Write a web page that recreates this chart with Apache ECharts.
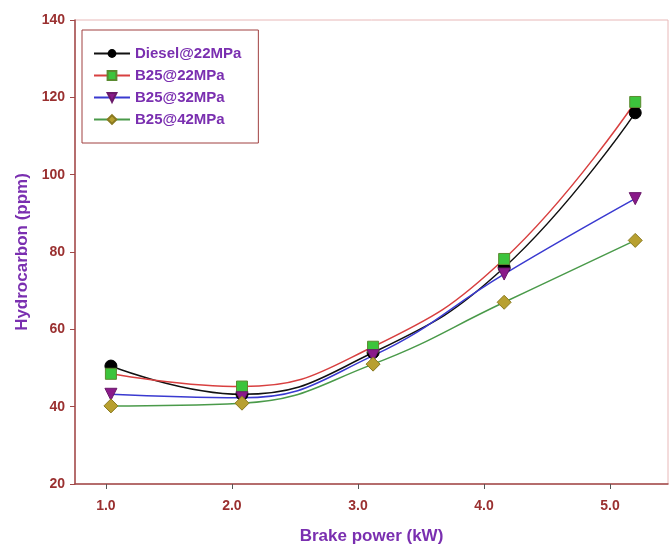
<!DOCTYPE html>
<html>
<head>
<meta charset="utf-8">
<script src="https://cdn.jsdelivr.net/npm/echarts@6/dist/echarts.min.js"></script>
<style>html,body{margin:0;padding:0;background:#fff}#c{width:672px;height:546px}</style>
</head>
<body>
<div id="c"></div>
<script>
var brakePower = [1.04, 2.08, 3.12, 4.16, 5.2];
var diesel22 = [50.5, 43.2, 54.0, 76.0, 116.0];
var b25_22 = [48.5, 45.2, 55.5, 78.2, 118.8];
var b25_32 = [43.2, 42.3, 53.2, 74.3, 93.8];
var b25_42 = [40.2, 40.9, 51.0, 67.0, 83.0];
var xTicks = [1, 2, 3, 4, 5];
var seriesNames = ['Diesel@22MPa', 'B25@22MPa', 'B25@32MPa', 'B25@42MPa'];

function pairs(ys) { return brakePower.map(function (x, i) { return [x, ys[i]]; }); }

var axisColor = '#a04848';
var labelColor = '#9a3030';
var titleColor = '#7a2fb0';
var font = '"Liberation Sans", Arial, sans-serif';

var chart = echarts.init(document.getElementById('c'), null, {renderer: 'canvas'});
chart.setOption({
  animation: false,
  backgroundColor: '#ffffff',
  grid: {left: 75, top: 20, right: 4, bottom: 62, show: true, borderColor: '#e8b8b8', borderWidth: 1,
    containLabel: false, outerBoundsMode: 'none'},
  legend: {
    orient: 'vertical', left: 82, top: 30,
    borderColor: '#a04040', borderWidth: 1,
    padding: [16, 17, 16, 11], itemGap: 7,
    itemWidth: 36, itemHeight: 11,
    textStyle: {color: titleColor, fontWeight: 'bold', fontSize: 15, fontFamily: font},
    data: seriesNames
  },
  xAxis: {
    type: 'value', min: 0.755, max: 5.46,
    name: 'Brake power (kW)', nameLocation: 'middle', nameGap: 44,
    nameTextStyle: {color: titleColor, fontWeight: 'bold', fontSize: 17, fontFamily: font},
    axisLine: {lineStyle: {color: axisColor, width: 1.5}},
    axisTick: {show: true, length: 5, lineStyle: {color: '#555'}, customValues: xTicks},
    axisLabel: {color: labelColor, fontWeight: 'bold', fontSize: 14, fontFamily: font, margin: 15,
      customValues: xTicks, formatter: function (v) { return v.toFixed(1); }},
    splitLine: {show: false}
  },
  yAxis: {
    type: 'value', min: 20, max: 140, interval: 20,
    name: 'Hydrocarbon (ppm)', nameLocation: 'middle', nameGap: 44, nameRotate: 90,
    nameTextStyle: {color: titleColor, fontWeight: 'bold', fontSize: 17, fontFamily: font},
    axisLine: {show: true, lineStyle: {color: axisColor, width: 1.5}},
    axisTick: {show: true, length: 5, lineStyle: {color: axisColor}},
    axisLabel: {color: labelColor, fontWeight: 'bold', fontSize: 14, fontFamily: font, margin: 10},
    splitLine: {show: false}
  },
  series: [
    {name: seriesNames[0], type: 'line', smooth: 0.45, data: pairs(diesel22),
      symbol: 'circle', symbolSize: 12,
      lineStyle: {color: '#111111', width: 1.5},
      itemStyle: {color: '#000000', borderColor: '#000000'}},
    {name: seriesNames[1], type: 'line', smooth: 0.45, data: pairs(b25_22),
      symbol: 'rect', symbolSize: 11,
      lineStyle: {color: '#d84040', width: 1.5},
      itemStyle: {color: '#3cc43c', borderColor: '#5a8a30', borderWidth: 1}},
    {name: seriesNames[2], type: 'line', smooth: 0.45, data: pairs(b25_32),
      symbol: 'triangle', symbolRotate: 180, symbolSize: 12,
      lineStyle: {color: '#3a3ad0', width: 1.5},
      itemStyle: {color: '#8a1a8a', borderColor: '#6a1a6a', borderWidth: 1}},
    {name: seriesNames[3], type: 'line', smooth: 0.45, data: pairs(b25_42),
      symbol: 'diamond', symbolSize: 14,
      lineStyle: {color: '#4a9a4a', width: 1.5},
      itemStyle: {color: '#b8a030', borderColor: '#8a7a20', borderWidth: 1}}
  ]
});
</script>
</body>
</html>
